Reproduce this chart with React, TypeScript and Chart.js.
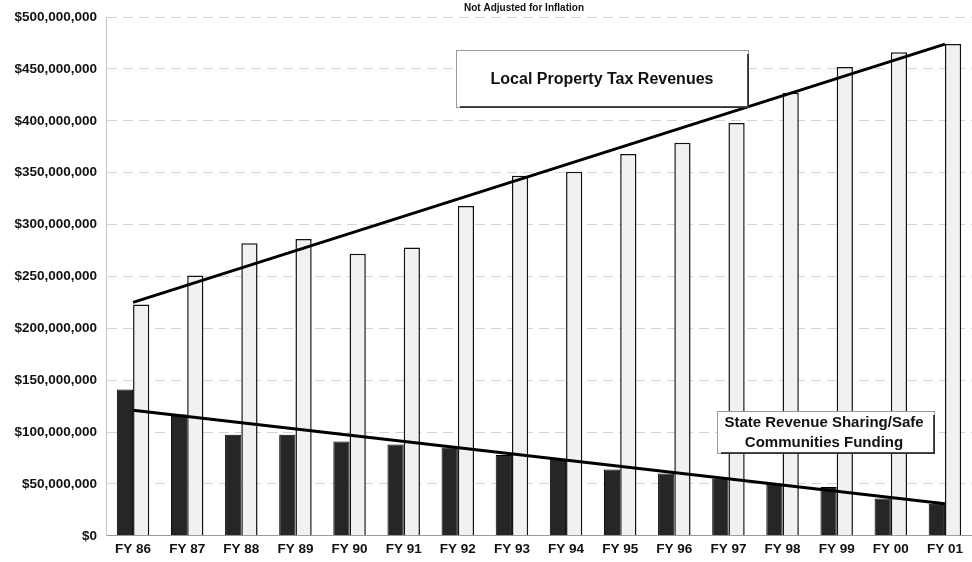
import { useEffect, useRef } from "react";
import { Chart, registerables } from "chart.js";

Chart.register(...registerables);

const categories = [
  "FY 86", "FY 87", "FY 88", "FY 89", "FY 90", "FY 91", "FY 92", "FY 93",
  "FY 94", "FY 95", "FY 96", "FY 97", "FY 98", "FY 99", "FY 00", "FY 01",
];

const stateFunding = [
  141e6, 117e6, 97.5e6, 97.5e6, 91e6, 88e6, 85e6, 78e6,
  74e6, 64e6, 60e6, 55e6, 50e6, 47e6, 36e6, 31e6,
];

const localPropertyTax = [
  223e6, 251e6, 282e6, 286e6, 272e6, 278e6, 318e6, 347e6,
  351e6, 368e6, 379e6, 398e6, 427e6, 452e6, 466e6, 474e6,
];

// trend lines: only their end points are given
const localTrend = [
  225e6, null, null, null, null, null, null, null,
  null, null, null, null, null, null, null, 474e6,
];
const stateTrend = [
  121e6, null, null, null, null, null, null, null,
  null, null, null, null, null, null, null, 31e6,
];

const yMin = 0;
const yMax = 500e6;
const yStep = 50e6;

const subtitle = "Not Adjusted for Inflation";
const localLabel = "Local Property Tax Revenues";
const stateLabelLines = ["State Revenue Sharing/Safe", "Communities Funding"];

const FONT = "'Liberation Sans', Arial, Helvetica, sans-serif";

const annotationPlugin = {
  id: "annotations",
  afterDatasetsDraw(chart: any) {
    const ctx = chart.ctx as CanvasRenderingContext2D;
    ctx.save();
    // subtitle
    ctx.fillStyle = "#111";
    ctx.font = `bold 10px ${FONT}`;
    ctx.textAlign = "center";
    ctx.textBaseline = "middle";
    ctx.fillText(subtitle, 524, 8);

    const drawBox = (x: number, y: number, w: number, h: number) => {
      ctx.fillStyle = "#ffffff";
      ctx.fillRect(x, y, w, h);
      ctx.strokeStyle = "#9a9a9a";
      ctx.lineWidth = 1;
      ctx.strokeRect(x + 0.5, y + 0.5, w, h);
      ctx.strokeStyle = "#111";
      ctx.lineWidth = 1.5;
      ctx.beginPath();
      ctx.moveTo(x + w, y + 4);
      ctx.lineTo(x + w, y + h);
      ctx.lineTo(x + 4, y + h);
      ctx.stroke();
    };

    drawBox(456, 50, 292, 57);
    ctx.fillStyle = "#111";
    ctx.font = `bold 16px ${FONT}`;
    ctx.fillText(localLabel, 602, 80);

    drawBox(717, 411, 217, 42);
    ctx.fillStyle = "#111";
    ctx.font = `bold 15px ${FONT}`;
    ctx.fillText(stateLabelLines[0], 824, 423);
    ctx.fillText(stateLabelLines[1], 824, 443);
    ctx.restore();
  },
};

export default function App() {
  const canvasRef = useRef<HTMLCanvasElement | null>(null);

  useEffect(() => {
    document.body.style.margin = "0";
    document.body.style.background = "#ffffff";
    const canvas = canvasRef.current;
    if (!canvas) return;
    const chart = new Chart(canvas, {
      type: "bar",
      data: {
        labels: categories,
        datasets: [
          {
            type: "line",
            label: "Local trend",
            data: localTrend,
            borderColor: "#000",
            borderWidth: 3,
            pointRadius: 0,
            spanGaps: true,
            fill: false,
            order: 0,
          } as any,
          {
            type: "line",
            label: "State trend",
            data: stateTrend,
            borderColor: "#000",
            borderWidth: 3,
            pointRadius: 0,
            spanGaps: true,
            fill: false,
            order: 0,
          } as any,
          {
            type: "bar",
            label: "State Revenue Sharing/Safe Communities Funding",
            data: stateFunding,
            backgroundColor: "#262626",
            borderColor: "#000",
            borderWidth: 1,
            categoryPercentage: 0.6,
            barPercentage: 1.0,
            order: 1,
          },
          {
            type: "bar",
            label: "Local Property Tax Revenues",
            data: localPropertyTax,
            backgroundColor: "#f1f1f1",
            borderColor: "#111",
            borderWidth: 1.5,
            categoryPercentage: 0.6,
            barPercentage: 1.0,
            order: 1,
          },
        ],
      },
      options: {
        animation: false,
        responsive: false,
        maintainAspectRatio: false,
        layout: { padding: { top: 10, right: 0, bottom: 0, left: 0 } },
        plugins: {
          legend: { display: false },
          title: { display: false },
          tooltip: { enabled: false },
        },
        scales: {
          x: {
            grid: { display: false, drawTicks: false },
            border: { display: true, color: "#9a9a9a", width: 1 },
            ticks: {
              color: "#111",
              padding: 5,
              maxRotation: 0,
              autoSkip: false,
              font: { family: FONT, size: 13.5, weight: "bold" },
            },
          },
          y: {
            min: yMin,
            max: yMax,
            afterFit: (scale: any) => {
              scale.width = 106;
            },
            grid: {
              color: "#d4d4d4",
              drawTicks: false,
            },
            border: { display: true, color: "#c4c4c4", dash: [10, 6] } as any,
            ticks: {
              stepSize: yStep,
              padding: 9,
              color: "#111",
              font: { family: FONT, size: 13.5, weight: "bold" },
              callback: (v: any) => "$" + Number(v).toLocaleString("en-US"),
            },
          },
        },
      },
      plugins: [annotationPlugin],
    });
    return () => chart.destroy();
  }, []);

  return (
    <div style={{ width: 972, height: 562, position: "relative" }}>
      <canvas ref={canvasRef} width={972} height={562} style={{ width: 972, height: 562, display: "block" }} />
    </div>
  );
}
